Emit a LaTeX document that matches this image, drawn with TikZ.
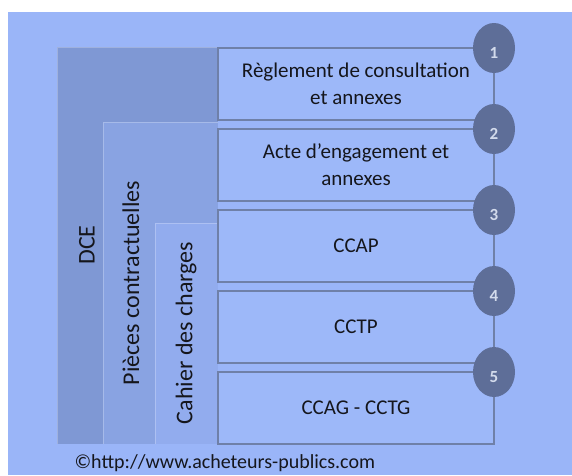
\documentclass[tikz,border=0pt]{standalone}
\usepackage{fontspec}
\setmainfont{Carlito}
\usetikzlibrary{positioning,shapes.geometric}
\definecolor{sky}{HTML}{9AB5F8}
\definecolor{boxfill}{HTML}{9DB8F9}
\definecolor{dcefill}{HTML}{7F98D4}
\definecolor{pcfill}{HTML}{89A3E2}
\definecolor{cdcfill}{HTML}{92ACEE}
\definecolor{edge}{HTML}{6F80A8}
\definecolor{dot}{HTML}{5E6E98}
\definecolor{numtext}{HTML}{D3DBEC}
\definecolor{ink}{HTML}{15161C}

\begin{document}
\begin{tikzpicture}[x=1pt, y=-1pt, node distance=9pt,
    piece/.style={draw=edge, line width=1.6pt, fill=boxfill, minimum width=276pt, minimum height=72pt,
      inner sep=0pt, outer sep=0pt, align=center, text=ink, font=\fontsize{21}{27}\selectfont},
    num/.style={ellipse, fill=dot, minimum width=42pt, minimum height=50pt, inner sep=0pt,
      text=numtext, font=\fontsize{17}{17}\selectfont\bfseries, text height=21pt, text depth=0pt},
    band/.style={rotate=90, text=ink, font=\fontsize{24}{24}\selectfont},
    rim/.style={draw=white, draw opacity=0.25, line width=0.8pt}]
\useasboundingbox (0,0) rectangle (572,475);
\fill[sky] (8,12) rectangle (572,475);
% nested panels on the left
\coordinate (dce) at (57,47);
\coordinate (pc) at (103,122);
\coordinate (cdc) at (155,223);
\coordinate (foot) at (218,444);
\fill[dcefill] (dce) rectangle (foot);
\draw[rim] (dce |- foot) -- (dce) -- (dce -| foot);
\fill[pcfill] (pc) rectangle (foot);
\draw[rim] (pc |- foot) -- (pc) -- (pc -| foot);
\fill[cdcfill] (cdc) rectangle (foot);
\draw[rim] (cdc |- foot) -- (cdc) -- (cdc -| foot);
\node[band] (dcelbl) at (87,245) {DCE};
\node[band] (pclbl) at (131,283) {Pièces contractuelles};
\node[band] (cdclbl) at (186,333) {Cahier des charges};
% the five documents
\node[piece] (b1) at (356,84) {Règlement de consultation\\et annexes};
\node[piece, below=of b1] (b2) {Acte d’engagement et\\annexes};
\node[piece, below=of b2] (b3) {CCAP};
\node[piece, below=of b3] (b4) {CCTP};
\node[piece, below=of b4] (b5) {CCAG - CCTG};
% numbered markers
\foreach \i in {1,...,5}
  \node[num] (n\i) at (b\i.north east) {\i};
\node[anchor=west, text=ink, font=\fontsize{20}{20}\selectfont] (src) at (71,463)
  {©http://www.acheteurs-publics.com};
\end{tikzpicture}
\end{document}
